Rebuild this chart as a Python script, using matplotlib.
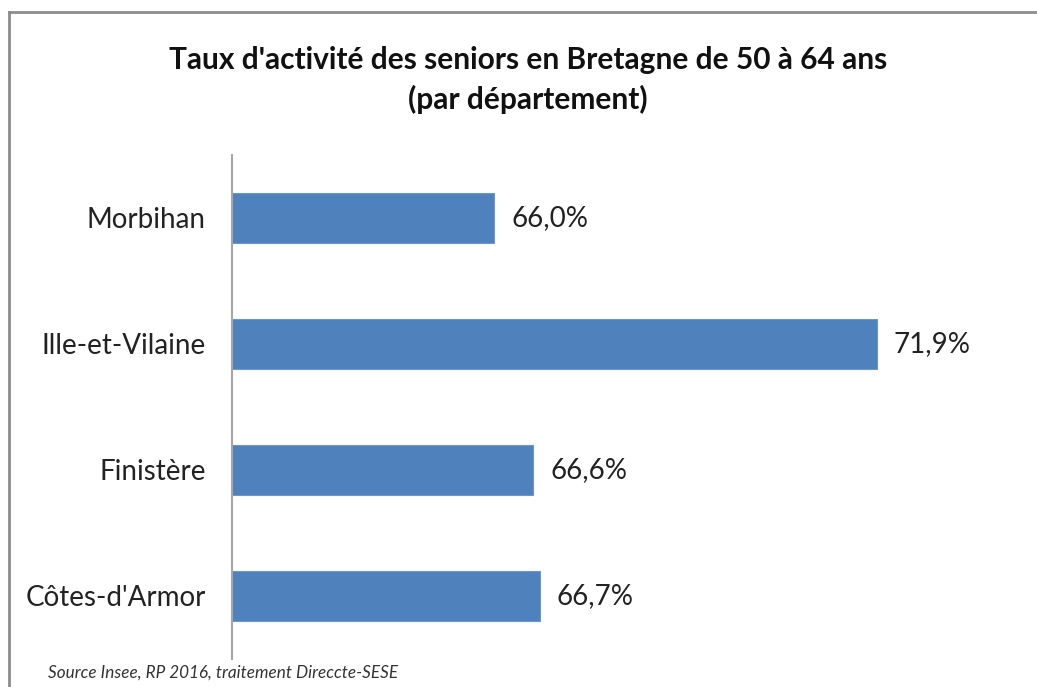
import matplotlib
matplotlib.use("Agg")
import matplotlib.pyplot as plt
from matplotlib.lines import Line2D

categories = ["Côtes-d'Armor", "Finistère", "Ille-et-Vilaine", "Morbihan"]
values = [66.7, 66.6, 71.9, 66.0]
title = "Taux d'activité des seniors en Bretagne de 50 à 64 ans\n(par département)"
source = "Source Insee, RP 2016, traitement Direccte-SESE"

plt.rcParams['font.family'] = ['Lato', 'DejaVu Sans']

W, H = 1037, 687
fig = plt.figure(figsize=(W / 100, H / 100), dpi=100)
fig.patch.set_facecolor('white')

ax = fig.add_axes([232 / W, 1 - 659 / H, (1000 - 232) / W, (659 - 155) / H])
y = list(range(len(categories)))
ax.barh(y, values, height=0.4, color='#4F81BD', edgecolor='#6F96C8', linewidth=0.8)
ax.set_xlim(61.95, 73.8)
ax.set_ylim(-0.5, len(categories) - 0.5)
ax.set_yticks(y)
ax.set_yticklabels(categories, fontsize=20, color='#222222')
ax.tick_params(axis='y', length=0, pad=19)
ax.set_xticks([])
for s in ['top', 'right', 'bottom']:
    ax.spines[s].set_visible(False)
ax.spines['left'].set_color('#A6A6A6')
ax.spines['left'].set_linewidth(1.5)

for yi, v in zip(y, values):
    ax.annotate(f"{v:.1f}%".replace('.', ','), xy=(v, yi), xytext=(12, 0),
                textcoords='offset points', va='center', ha='left',
                fontsize=20, color='#222222')

fig.text(528 / W, 1 - 80 / H, title, ha='center', va='center',
         fontsize=21.5, fontweight='bold', color='#111111', linespacing=1.45)
fig.text(48 / W, 1 - 673 / H, source, ha='left', va='center',
         fontsize=12.3, style='italic', color='#333333')

# outer frame (top and left only visible)
fig.add_artist(Line2D([9 / W, 1.0], [1 - 12 / H, 1 - 12 / H], transform=fig.transFigure,
                      color='#8C8C8C', linewidth=2))
fig.add_artist(Line2D([9 / W, 9 / W], [0, 1 - 12 / H], transform=fig.transFigure,
                      color='#8C8C8C', linewidth=2))

fig.savefig('out.png', dpi=100, facecolor='white')
